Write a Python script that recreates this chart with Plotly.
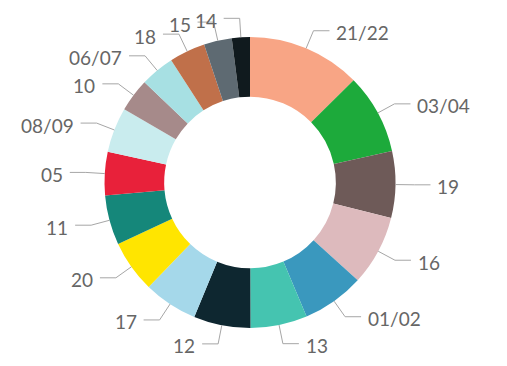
import math
import plotly.graph_objects as go

labels = ["21/22", "03/04", "19", "16", "01/02", "13", "12", "17", "20",
          "11", "05", "08/09", "10", "06/07", "18", "15", "14"]
values = [12.6, 8.9, 7.4, 7.8, 6.9, 6.3, 6.3, 6.0, 5.8,
          5.5, 4.8, 5.0, 3.7, 3.8, 4.0, 3.1, 2.0]
colors = ["#F8A585", "#1DAA3B", "#6E5A58", "#DDBABD", "#3A98BE", "#45C4B0",
          "#0E2730", "#A5D8EA", "#FFE500", "#15877A", "#E8213A", "#C9ECEE",
          "#A68A8A", "#A7E0E3", "#C0704A", "#5E6A72", "#101A1E"]

W, H = 507, 366
cx, cy, R = 250.0, 182.5, 145.5
hole = 0.59

fig = go.Figure(go.Pie(
    labels=labels, values=values, sort=False, direction="clockwise",
    rotation=0, hole=hole, textinfo="none", hoverinfo="label+value",
    marker=dict(colors=colors, line=dict(width=0)),
    domain=dict(x=[(cx - R) / W, (cx + R) / W],
                y=[1 - (cy + R) / H, 1 - (cy - R) / H]),
    showlegend=False,
))

def px(x, y):
    return x / W, 1 - y / H

total = sum(values)
start = 0.0
shapes, annots = [], []
for lab, v in zip(labels, values):
    ang = v / total * 360.0
    mid = math.radians(start + ang / 2)
    start += ang
    s, c = math.sin(mid), math.cos(mid)
    x0, y0 = cx + R * s, cy - R * c
    x1, y1 = cx + (R + 19) * s, cy - (R + 19) * c
    side = 1 if s >= 0 else -1
    x2, y2 = x1 + side * 16, y1
    a, b = px(x0, y0); a1, b1 = px(x1, y1); a2, b2 = px(x2, y2)
    shapes.append(dict(type="path", xref="paper", yref="paper",
                       path=f"M {a} {b} L {a1} {b1} L {a2} {b2}",
                       line=dict(color="#A6A6A6", width=1)))
    tx, ty = px(x2 + side * 5, y2 + 2)
    annots.append(dict(x=tx, y=ty, xref="paper", yref="paper", text=lab,
                       showarrow=False, xanchor="left" if side > 0 else "right",
                       yanchor="middle",
                       font=dict(family="Lato", size=19, color="#666666")))

fig.update_layout(width=W, height=H, margin=dict(l=0, r=0, t=0, b=0),
                  paper_bgcolor="white", plot_bgcolor="white",
                  shapes=shapes, annotations=annots)
fig.write_html("out.html")
